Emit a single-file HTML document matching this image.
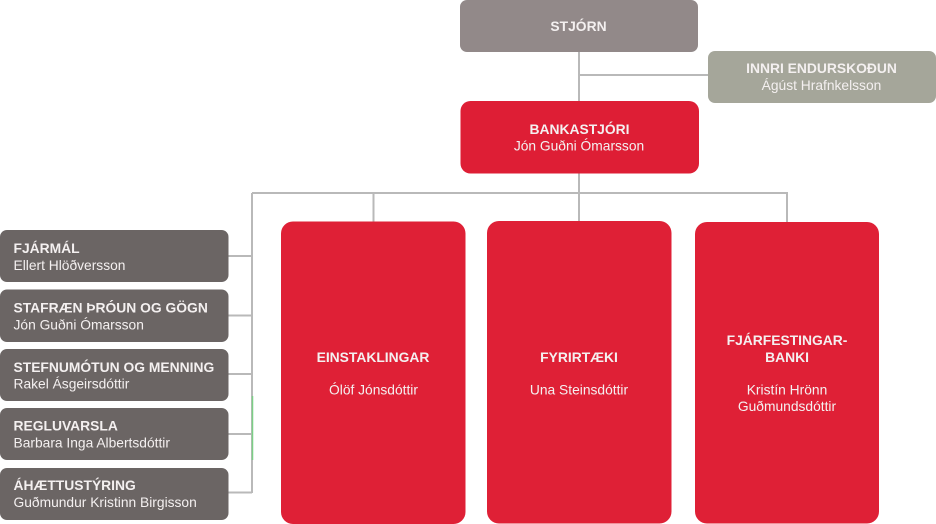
<!DOCTYPE html>
<html><head><meta charset="utf-8"><style>
html,body{margin:0;padding:0;background:#fff;width:936px;height:524px;overflow:hidden}
svg{display:block}
text{font-family:"Liberation Sans",sans-serif;font-size:13.8px;fill:#f4f0f0}
.b{font-weight:bold;font-size:13.85px}
.m{text-anchor:middle}
</style></head><body>
<svg width="936" height="524" viewBox="0 0 936 524" xmlns="http://www.w3.org/2000/svg">
<g fill="none" stroke="#b9b9b9" stroke-width="2">
<path d="M579 52V101M579 75H708M579 173V222M252 193H787V222M373.500 193V222M252 193V493M228 256H252M228 315.500H252M228 374H252M228 434H252M228 492.500H252"/>
</g>
<path d="M252.500 396V460" stroke="#7ccf86" stroke-width="1.500"/>
<rect x="460" y="0" width="238" height="52" rx="7" fill="#928989"/>
<rect x="708" y="51" width="228" height="52" rx="7" fill="#a5a69a"/>
<rect x="460.500" y="101" width="238.500" height="72.500" rx="10" fill="#de1e35"/>
<rect x="281" y="221.500" width="184.500" height="302.500" rx="12" fill="#df2036"/>
<rect x="487" y="221" width="184.500" height="302.500" rx="12" fill="#df2036"/>
<rect x="695" y="222" width="184" height="301.500" rx="12" fill="#df2036"/>
<g fill="#6b6564">
<rect x="0" y="230" width="228.500" height="52" rx="7"/>
<rect x="0" y="289.500" width="228.500" height="52.500" rx="7"/>
<rect x="0" y="349" width="228.500" height="52" rx="7"/>
<rect x="0" y="408" width="228.500" height="52" rx="7"/>
<rect x="0" y="468" width="228.500" height="52" rx="7"/>
</g>
<text class="b m" x="578.500" y="31">STJÓRN</text>
<text class="b m" x="821.500" y="73">INNRI ENDURSKOÐUN</text>
<text class="m" x="821.500" y="90">Ágúst Hrafnkelsson</text>
<text class="b m" x="579.500" y="134">BANKASTJÓRI</text>
<text class="m" x="579" y="150.500">Jón Guðni Ómarsson</text>
<text class="b m" x="373" y="362">EINSTAKLINGAR</text>
<text class="m" x="373.500" y="394.500">Ólöf Jónsdóttir</text>
<text class="b m" x="579" y="362">FYRIRTÆKI</text>
<text class="m" x="579" y="394.500">Una Steinsdóttir</text>
<text class="b m" x="787" y="345">FJÁRFESTINGAR-</text>
<text class="b m" x="787" y="362">BANKI</text>
<text class="m" x="787" y="394.500">Kristín Hrönn</text>
<text class="m" x="787" y="411">Guðmundsdóttir</text>
<text class="b" x="13.500" y="253">FJÁRMÁL</text>
<text x="13.500" y="270">Ellert Hlöðversson</text>
<text class="b" x="13.500" y="312.500">STAFRÆN ÞRÓUN OG GÖGN</text>
<text x="13.500" y="329.500">Jón Guðni Ómarsson</text>
<text class="b" x="13.500" y="372">STEFNUMÓTUN OG MENNING</text>
<text x="13.500" y="388.500">Rakel Ásgeirsdóttir</text>
<text class="b" x="13.500" y="430.500">REGLUVARSLA</text>
<text x="13.500" y="447.500">Barbara Inga Albertsdóttir</text>
<text class="b" x="13.500" y="490">ÁHÆTTUSTÝRING</text>
<text x="13.500" y="507">Guðmundur Kristinn Birgisson</text>
</svg>
</body></html>
